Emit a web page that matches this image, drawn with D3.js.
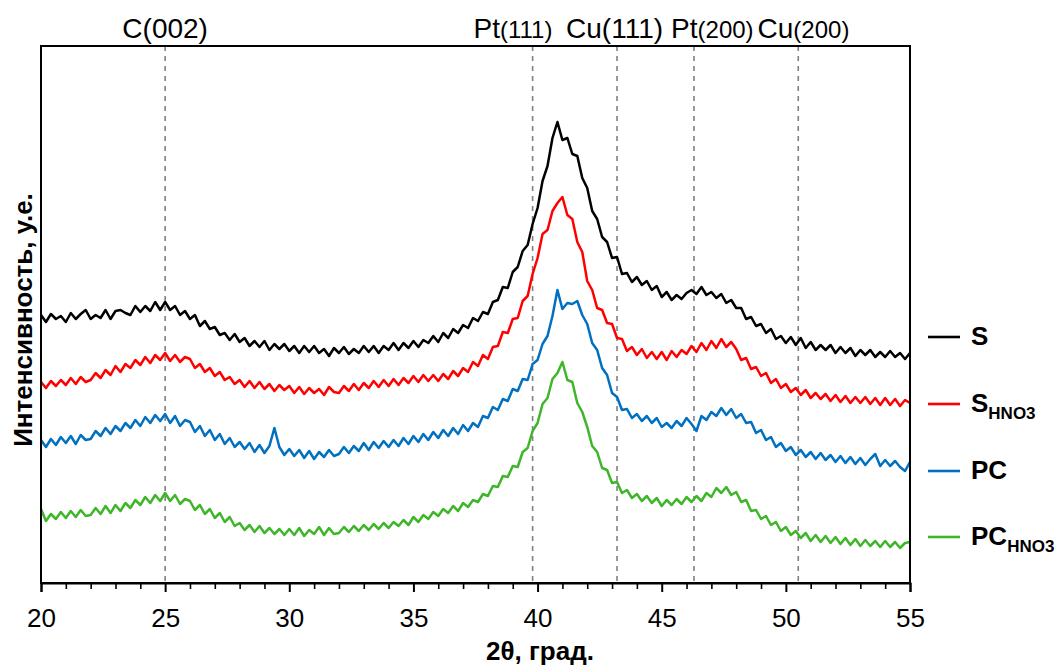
<!DOCTYPE html>
<html>
<head>
<meta charset="utf-8">
<script src="https://cdn.jsdelivr.net/npm/d3@7"></script>
<style>
  html, body { margin: 0; padding: 0; background: #fff; }
  svg { display: block; font-family: "Liberation Sans", Arial, sans-serif; }
</style>
</head>
<body>
<svg id="chart" width="1063" height="668"></svg>
<script>
// ---- data (intensity, arbitrary units; sampled every 0.2° from 20° to 55°) ----
const angleStart = 20, angleStep = 0.2;
const S = [
268,261,269,264,267,261,270,264,269,273,
264,268,265,273,264,272,273,270,268,277,
271,277,272,281,273,281,273,277,268,272,
264,268,257,262,254,256,248,250,243,249,
241,245,237,242,236,242,233,239,234,239,
232,237,230,237,231,237,230,234,227,235,
230,236,229,234,230,237,231,237,230,237,
233,240,233,240,235,242,236,243,240,247,
241,250,245,254,250,258,255,265,262,271,
269,281,283,296,295,311,316,332,338,359,
375,402,417,445,461,443,445,429,427,405,
395,372,364,346,341,325,326,309,310,301,
306,298,302,293,297,286,291,283,288,284,
290,293,289,296,288,291,285,289,280,283,
275,275,264,266,257,259,250,254,244,247,
240,246,238,245,235,241,233,238,233,238,
230,236,230,235,227,233,228,233,226,231,
226,232,226,230,224,230];
const S_HNO3 = [
201,195,202,197,203,198,205,199,206,201,
203,210,205,213,208,217,211,219,215,223,
218,226,220,228,223,230,222,228,221,226,
224,215,219,211,215,207,211,203,206,199,
203,196,202,195,201,194,199,192,198,193,
197,190,196,189,195,190,194,188,196,191,
190,197,192,199,193,200,195,202,196,203,
197,204,198,205,200,207,201,208,202,208,
202,209,204,212,207,215,211,221,217,228,
224,236,237,251,250,264,265,282,287,309,
325,349,353,372,380,386,368,364,341,331,
302,293,275,273,260,259,245,244,232,236,
228,234,225,231,224,231,223,232,226,233,
229,237,231,240,233,242,235,244,236,241,
234,223,225,214,216,207,210,200,204,195,
199,191,195,188,193,185,190,184,189,182,
188,181,187,180,186,180,186,179,185,178,
185,178,184,177,183,180];
const PC = [
143,136,144,138,146,140,147,139,148,143,
144,152,147,155,149,157,152,160,155,163,
157,166,160,168,162,169,160,167,157,163,
161,151,157,147,153,143,149,139,145,136,
141,134,140,131,138,130,137,155,136,128,
134,127,133,125,132,124,131,126,133,127,
129,136,130,137,132,140,133,141,135,142,
136,143,137,145,139,147,141,149,143,151,
145,153,147,155,149,158,152,160,156,167,
165,176,173,184,182,194,192,204,203,219,
223,239,247,267,293,274,280,279,282,268,
259,240,233,215,208,190,186,173,174,165,
169,162,167,160,165,156,160,155,162,157,
165,159,152,167,163,171,167,175,168,174,
165,169,160,161,150,153,143,146,136,140,
132,136,128,133,126,131,124,130,123,128,
121,127,120,126,119,125,118,124,129,117,
123,117,122,116,112,121];
const PC_HNO3 = [
74,62,69,64,71,65,72,66,73,67,
68,75,69,77,70,78,72,80,75,83,
78,86,80,88,82,90,82,88,79,84,
82,73,78,69,74,65,70,61,66,57,
60,53,58,51,57,50,55,49,54,48,
54,48,55,47,53,49,56,48,55,49,
50,56,51,57,52,58,53,59,54,60,
55,61,57,63,58,66,61,68,64,71,
67,74,70,77,72,80,76,83,81,89,
87,97,96,107,106,117,116,131,135,152,
160,179,185,204,210,221,203,201,180,171,
156,137,131,115,113,100,101,90,93,85,
89,82,87,80,85,77,83,78,84,79,
86,81,87,82,90,86,95,90,96,88,
91,81,83,72,73,64,67,58,61,52,
56,48,52,45,50,42,48,41,47,40,
46,39,45,38,44,37,43,37,42,36,
42,36,41,35,40,41];

const seriesNames = ["S", "S_HNO3", "PC", "PC_HNO3"];
const seriesMain = ["S", "S", "PC", "PC"];
const seriesSub = ["", "HNO3", "", "HNO3"];
const seriesColors = ["#000000", "#ff0000", "#0070c0", "#3fb62a"];
const seriesValues = [S, S_HNO3, PC, PC_HNO3];

const xTicks = [20, 25, 30, 35, 40, 45, 50, 55];
const xMinorTicks = [21,22,23,24,26,27,28,29,31,32,33,34,36,37,38,39,41,42,43,44,46,47,48,49,51,52,53,54];
const peakPos  = [25, 39.8, 43.2, 46.3, 50.5];
const peakMain = ["C(002)", "Pt", "Cu(111)", "Pt", "Cu"];
const peakSub  = ["", "(111)", "", "(200)", "(200)"];

// ---- layout ----
const svg = d3.select("#chart");
const pLeft = 41, pRight = 910, pTop = 46, pBottom = 583;
const x = d3.scaleLinear().domain([20, 55]).range([pLeft, pRight]);
const y = d3.scaleLinear().domain([0, pBottom - pTop]).range([pBottom, pTop]);
// label centre positions (in axis units), set to avoid overlaps as in the original
const labelCentre = [25, 39.01, 43.1, 47.04, 50.71];

// dashed reference lines
svg.append("g").selectAll("line").data(peakPos).join("line")
  .attr("x1", d => x(d)).attr("x2", d => x(d))
  .attr("y1", pTop).attr("y2", pBottom)
  .attr("stroke", "#808080").attr("stroke-width", 1.6)
  .attr("stroke-dasharray", "5,5");

// curves
const line = d3.line()
  .x((d, i) => x(angleStart + i * angleStep))
  .y(d => y(d));
svg.append("g").selectAll("path").data(seriesValues).join("path")
  .attr("d", d => line(d))
  .attr("fill", "none")
  .attr("stroke", (d, i) => seriesColors[i])
  .attr("stroke-width", 2.5)
  .attr("stroke-linejoin", "round");

// frame
svg.append("rect").attr("x", pLeft).attr("y", pTop)
  .attr("width", pRight - pLeft).attr("height", pBottom - pTop)
  .attr("fill", "none").attr("stroke", "#000").attr("stroke-width", 2);

// bottom axis
const axisMajor = d3.axisBottom(x).tickValues(xTicks).tickSize(9).tickPadding(17)
  .tickFormat(d3.format("d"));
const gx = svg.append("g").attr("transform", `translate(0,${pBottom})`).call(axisMajor);
gx.select(".domain").attr("stroke", "#000").attr("stroke-width", 2);
gx.selectAll(".tick line").attr("stroke", "#000").attr("stroke-width", 2);
gx.selectAll(".tick text").attr("font-size", 26).attr("fill", "#000")
  .attr("font-family", "Liberation Sans, Arial, sans-serif");
const axisMinor = d3.axisBottom(x).tickValues(xMinorTicks).tickSize(6).tickFormat("");
const gm = svg.append("g").attr("transform", `translate(0,${pBottom})`).call(axisMinor);
gm.select(".domain").remove();
gm.selectAll(".tick line").attr("stroke", "#000").attr("stroke-width", 1.6);

// axis titles
svg.append("text").attr("x", 540).attr("y", 660)
  .attr("text-anchor", "middle").attr("font-size", 26).attr("font-weight", "bold")
  .text("2θ, град.");
svg.append("text")
  .attr("transform", "translate(32,320) rotate(-90)")
  .attr("text-anchor", "middle").attr("font-size", 26).attr("font-weight", "bold")
  .text("Интенсивность, у.е.");

// peak labels
const pl = svg.append("g").selectAll("text").data(peakPos).join("text")
  .attr("x", (d, i) => x(labelCentre[i])).attr("y", 38)
  .attr("text-anchor", "middle").attr("font-size", 28).attr("fill", "#000");
pl.append("tspan").text((d, i) => peakMain[i]);
pl.append("tspan").attr("font-size", 24).text((d, i) => peakSub[i]);

// legend
const legY = [337, 404, 471, 537];
const lg = svg.append("g").selectAll("g").data(seriesNames).join("g")
  .attr("transform", (d, i) => `translate(928,${legY[i]})`);
lg.append("line").attr("x1", 0).attr("x2", 32).attr("y1", 0).attr("y2", 0)
  .attr("stroke", (d, i) => seriesColors[i]).attr("stroke-width", 2.6);
const lt = lg.append("text").attr("x", 43).attr("y", 8)
  .attr("font-size", 26).attr("font-weight", "bold").attr("fill", "#000");
lt.append("tspan").text((d, i) => seriesMain[i]);
lt.append("tspan").attr("font-size", 17).attr("dy", 7).text((d, i) => seriesSub[i]);
</script>
</body>
</html>
